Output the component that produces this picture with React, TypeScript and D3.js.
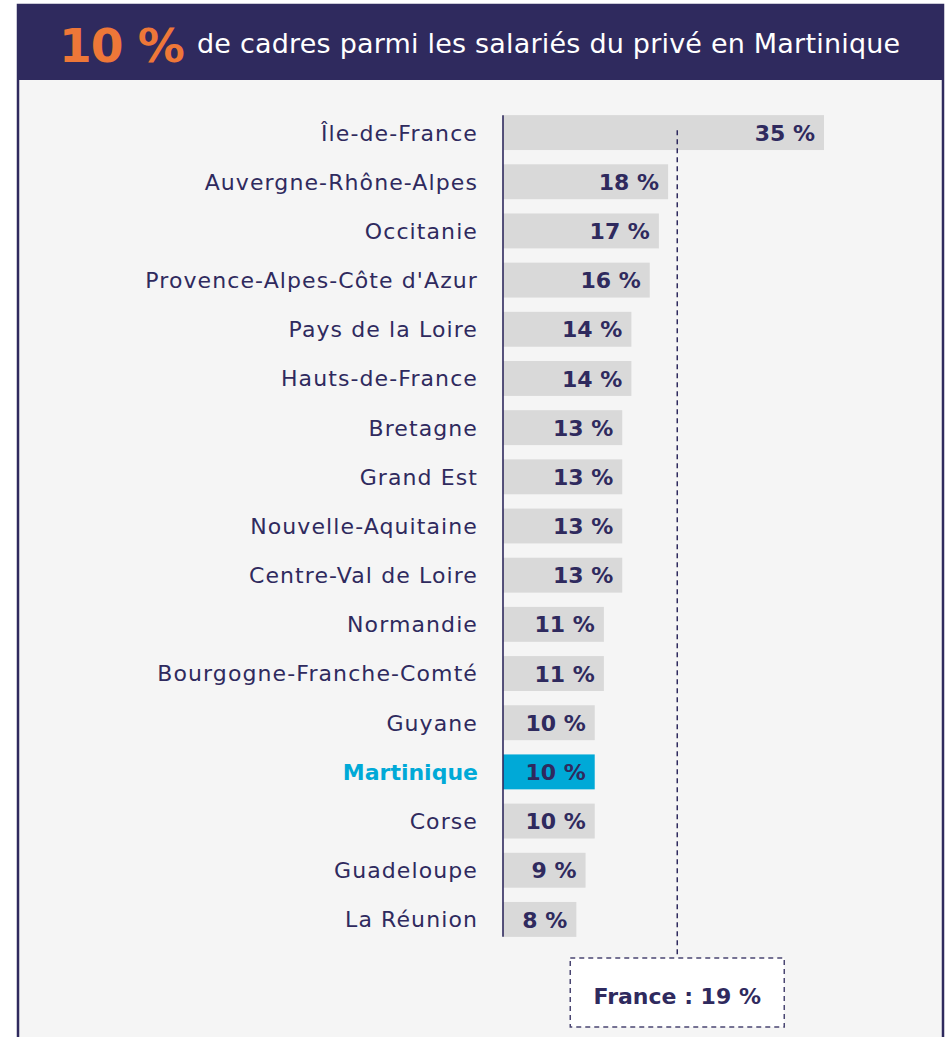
import { useEffect } from 'react'
import * as d3 from 'd3'

const regions = [
  'Île-de-France', 'Auvergne-Rhône-Alpes', 'Occitanie', "Provence-Alpes-Côte d'Azur",
  'Pays de la Loire', 'Hauts-de-France', 'Bretagne', 'Grand Est', 'Nouvelle-Aquitaine',
  'Centre-Val de Loire', 'Normandie', 'Bourgogne-Franche-Comté', 'Guyane', 'Martinique',
  'Corse', 'Guadeloupe', 'La Réunion',
]
const values = [35, 18, 17, 16, 14, 14, 13, 13, 13, 13, 11, 11, 10, 10, 10, 9, 8]
const highlight = 'Martinique'
const franceValue = 19
const headline = '10 %'
const title = 'de cadres parmi les salariés du privé en Martinique'

const NAVY = '#2f2a5e'
const ORANGE = '#ee7738'
const BLUE = '#00a9d7'
const GREY = '#d9d9d9'
const FONT = '"DejaVu Sans", sans-serif'
const fmt = (v: number) => `${v} %`

export default function App() {
  useEffect(() => { document.body.style.margin = '0' }, [])

  const W = 950, H = 1037
  const x = d3.scaleLinear().domain([0, 35]).range([503, 824])
  const y = d3.scaleBand<string>().domain(regions).range([108, 944]).paddingInner(0.29).paddingOuter(0.145)
  const bw = y.bandwidth()
  const first = y(regions[0])!
  const last = y(regions[regions.length - 1])! + bw
  const fx = x(franceValue)

  return (
    <svg width={W} height={H} style={{ display: 'block' }} fontFamily={FONT}>
      {/* panel */}
      <rect x={18} y={5} width={925} height={H} fill="#f5f5f5" stroke={NAVY} strokeWidth={2.5} />
      {/* header */}
      <rect x={17} y={5} width={927} height={75} fill={NAVY} />
      <text x={59} y={62} fill={ORANGE} fontSize={47} fontWeight={700} letterSpacing={-1}>{headline}</text>
      <text x={197} y={53} fill="#fff" fontSize={27} letterSpacing={0.2}>{title}</text>

      {/* bars */}
      {regions.map((r, i) => {
        const cy = y(r)! + bw / 2
        const hi = r === highlight
        return (
          <g key={r}>
            <rect x={x(0)} y={y(r)} width={x(values[i]) - x(0)} height={bw} fill={hi ? BLUE : GREY} />
            <text x={478} y={cy} dy="0.36em" textAnchor="end" fontSize={22} letterSpacing={hi ? 0 : 1.1}
              fill={hi ? BLUE : NAVY} fontWeight={hi ? 700 : 400}>{r}</text>
            <text x={x(values[i]) - 9} y={cy} dy="0.37em" textAnchor="end" fontSize={22}
              fill={NAVY} fontWeight={700}>{fmt(values[i])}</text>
          </g>
        )
      })}

      {/* axis */}
      <line x1={x(0)} x2={x(0)} y1={first} y2={last} stroke={NAVY} strokeWidth={1.6} />

      {/* France reference */}
      <line x1={fx} x2={fx} y1={first + 15} y2={958} stroke={NAVY} strokeWidth={1.5} strokeDasharray="5,4" />
      <rect x={fx - 107} y={958} width={214} height={69} fill="#fff" stroke="#4a4672" strokeWidth={1.5} strokeDasharray="5,4" />
      <text x={fx} y={996} dy="0.35em" textAnchor="middle" fontSize={22} fontWeight={700} fill={NAVY}>
        France : {fmt(franceValue)}
      </text>
    </svg>
  )
}
